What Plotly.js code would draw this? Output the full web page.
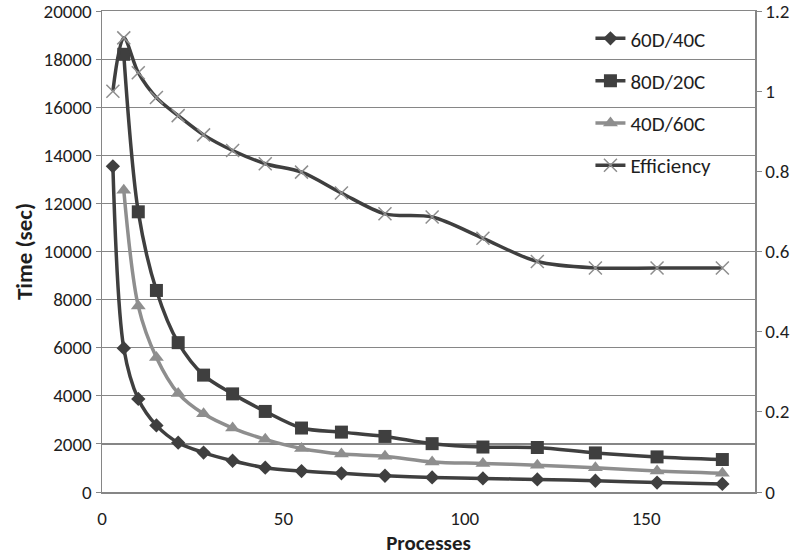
<!DOCTYPE html>
<html>
<head>
<meta charset="utf-8">
<script src="https://cdn.plot.ly/plotly-3.0.1.min.js"></script>
<style>html,body{margin:0;padding:0;background:#fff;}#chart{width:800px;height:556px;}</style>
</head>
<body>
<div id="chart"></div>
<script>
// Data
var procs = [3, 6, 10, 15, 21, 28, 36, 45, 55, 66, 78, 91, 105, 120, 136, 153, 171];
var procsFrom6 = [6, 10, 15, 21, 28, 36, 45, 55, 66, 78, 91, 105, 120, 136, 153, 171];

var time60D40C = [13540, 5980, 3870, 2770, 2050, 1640, 1300, 1010, 870, 775, 675, 606, 565, 524, 468, 390, 335];
var time80D20C = [18200, 11650, 8380, 6210, 4860, 4080, 3350, 2660, 2490, 2310, 2010, 1870, 1850, 1625, 1460, 1350];
var time40D60C = [12550, 7730, 5590, 4100, 3250, 2660, 2190, 1810, 1580, 1490, 1250, 1190, 1116, 1004, 870, 775];
var efficiency = [1.0, 1.133, 1.046, 0.984, 0.939, 0.891, 0.852, 0.819, 0.798, 0.746, 0.694, 0.686, 0.633, 0.575, 0.559, 0.559, 0.559];

var seriesNames = ['60D/40C', '80D/20C', '40D/60C', 'Efficiency'];
var xTickVals = [0, 50, 100, 150];
var leftTicks = [0, 2000, 4000, 6000, 8000, 10000, 12000, 14000, 16000, 18000, 20000];
var rightTicks = [0, 0.2, 0.4, 0.6, 0.8, 1, 1.2];

var FONT = 'Carlito, Lato, "Open Sans", sans-serif';
var dark = '#3f3f3f';
var light = '#8e8e8e';
var grid = '#868686';
var txt = '#1e1e1e';

var traces = [
  {x: procs, y: time60D40C, name: seriesNames[0], type: 'scatter', mode: 'lines+markers',
   line: {color: dark, width: 3.5, shape: 'spline', smoothing: 0.9},
   marker: {symbol: 'diamond', size: 11, color: dark}, legendgroup: 'a'},
  {x: procsFrom6, y: time80D20C, name: seriesNames[1], type: 'scatter', mode: 'lines+markers',
   line: {color: dark, width: 3.5, shape: 'spline', smoothing: 0.9},
   marker: {symbol: 'square', size: 13, color: dark}, legendgroup: 'b'},
  {x: procsFrom6, y: time40D60C, name: seriesNames[2], type: 'scatter', mode: 'lines+markers',
   line: {color: light, width: 3.5, shape: 'spline', smoothing: 0.9},
   marker: {symbol: 'triangle-up', size: 13, color: light}, legendgroup: 'c'},
  {x: procs, y: efficiency, name: seriesNames[3], type: 'scatter', mode: 'lines+markers', yaxis: 'y2',
   line: {color: dark, width: 3.5, shape: 'spline', smoothing: 0.9},
   marker: {symbol: 'x-thin', size: 13, color: light, line: {color: light, width: 1.5}}, legendgroup: 'd'}
];

var layout = {
  width: 800, height: 556,
  margin: {l: 102, r: 45, t: 11, b: 64},
  paper_bgcolor: '#ffffff', plot_bgcolor: '#ffffff',
  font: {family: FONT, size: 19, color: txt},
  showlegend: true,
  legend: {x: 0.748, y: 0.985, xanchor: 'left', yanchor: 'top', bgcolor: 'rgba(0,0,0,0)',
           font: {family: FONT, size: 21, color: txt}, traceorder: 'grouped', tracegroupgap: 12},
  xaxis: {range: [0, 180], tickvals: xTickVals, ticks: '', showgrid: false, zeroline: false,
          showline: true, linecolor: grid, linewidth: 1.5, mirror: 'all', ticklabelstandoff: 9,
          tickfont: {family: FONT, size: 19, color: txt},
          title: {text: '<b>Processes</b>', font: {family: FONT, size: 21, color: txt}, standoff: 16}},
  yaxis: {range: [0, 20000], tickvals: leftTicks, tickformat: 'd', ticks: 'outside', ticklen: 5, tickcolor: grid,
          showgrid: true, gridcolor: grid, gridwidth: 1.2, zeroline: false, ticklabeloverflow: 'allow',
          showline: true, linecolor: grid, linewidth: 1.5,
          tickfont: {family: FONT, size: 19, color: txt},
          title: {text: '<b>Time (sec)</b>', font: {family: FONT, size: 23, color: txt}, standoff: 4}},
  yaxis2: {range: [0, 1.2], tickvals: rightTicks, overlaying: 'y', side: 'right', ticks: 'outside', ticklen: 5,
           tickcolor: grid, showgrid: false, zeroline: false, showline: true, linecolor: grid, linewidth: 1.5,
           ticklabeloverflow: 'allow',
           tickfont: {family: FONT, size: 19, color: txt}}
};

Plotly.newPlot('chart', traces, layout, {displayModeBar: false, staticPlot: true});
</script>
</body>
</html>
